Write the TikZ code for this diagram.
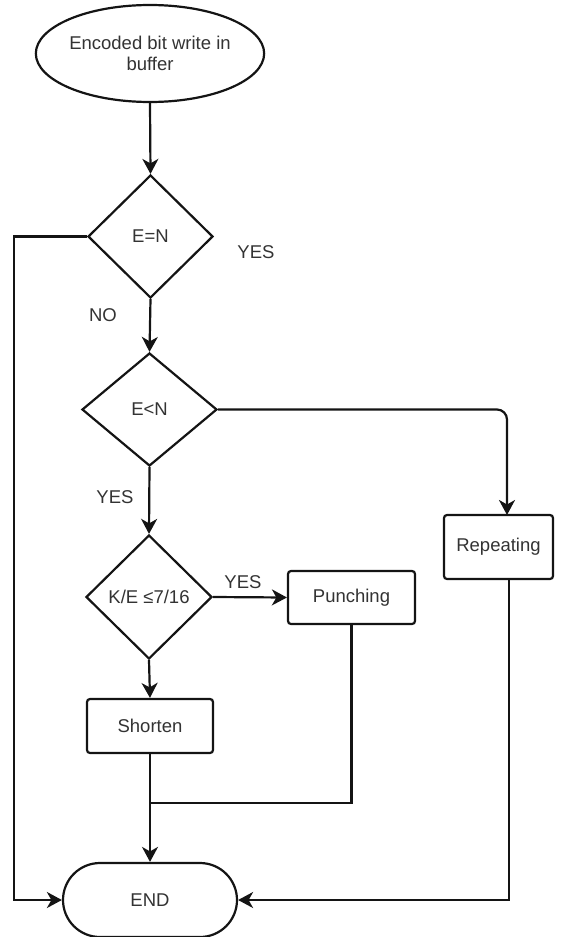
\documentclass[tikz,border=0pt]{standalone}
\usepackage{fontspec}
\setmainfont{Liberation Sans}
\usetikzlibrary{shapes.geometric,arrows.meta}
\definecolor{txt}{HTML}{333333}
\definecolor{ln}{HTML}{141414}
\begin{document}
\begin{tikzpicture}[x=1pt,y=-1pt,
  every node/.style={font=\fontsize{18.5}{22}\selectfont, text=txt},
  shp/.style={draw=ln, line width=2.2pt, fill=white, inner sep=0pt},
  term/.style={shp, ellipse, minimum width=210pt, minimum height=97pt, align=center},
  endterm/.style={shp, rectangle, rounded corners=37pt, minimum width=174pt, minimum height=74pt},
  dec/.style={shp, diamond},
  proc/.style={shp, rectangle, rounded corners=3pt},
  lab/.style={inner sep=0pt},
  conn/.style={draw=ln, line width=2.2pt},
  arr/.style={conn, -{Stealth[length=15pt, width=16pt, inset=4.5pt]}}
]
\useasboundingbox (0,0) rectangle (562,937);

\node[term] (start) at (150,53.5) {Encoded bit write in\\[-1pt]buffer};
\node[dec, minimum width=125pt, minimum height=123pt] (d1) at (150.5,236.5) {E=N};
\node[dec, minimum width=135pt, minimum height=113pt] (d2) at (149.5,409.5) {E<N};
\node[dec, minimum width=126pt, minimum height=124pt] (d3) at (149,597) {K/E ≤7/16};
\node[proc, minimum width=126pt, minimum height=54pt] (shorten) at (150,726) {Shorten};
\node[proc, minimum width=127pt, minimum height=53pt] (punch) at (351.5,597.5) {Punching};
\node[proc, minimum width=109pt, minimum height=64pt] (rep) at (498.5,547) {Repeating};
\node[endterm] (end) at (150,900) {END};

\node[lab] (l1) at (256,252) {YES};
\node[lab] (l2) at (103,315) {NO};
\node[lab] (l3) at (115,497) {YES};
\node[lab] (l4) at (243,582) {YES};

\coordinate (c1) at (14,236.5);
\coordinate (c2) at (14,900);
\coordinate (c3) at (507,409.5);
\coordinate (c4) at (507,515);
\coordinate (c5) at (509,579);
\coordinate (c6) at (509,900);
\coordinate (c7) at (351.5,803);
\coordinate (c8) at (150,803);

\draw[arr] (start.south) -- (d1.north);
\draw[arr] (d1.west) -- (c1) -- (c2) -- (end.west);
\draw[arr] (d1.south) -- (d2.north);
\draw[arr, rounded corners=10pt] (d2.east) -- (c3) -- (c4);
\draw[arr] (d2.south) -- (d3.north);
\draw[arr] (d3.east) -- (punch.west);
\draw[arr] (d3.south) -- (shorten.north);
\draw[arr] (shorten.south) -- (end.north);
\draw[conn] (punch.south) -- (c7) -- (c8);
\draw[arr] (c5) -- (c6) -- (end.east);
\end{tikzpicture}
\end{document}
